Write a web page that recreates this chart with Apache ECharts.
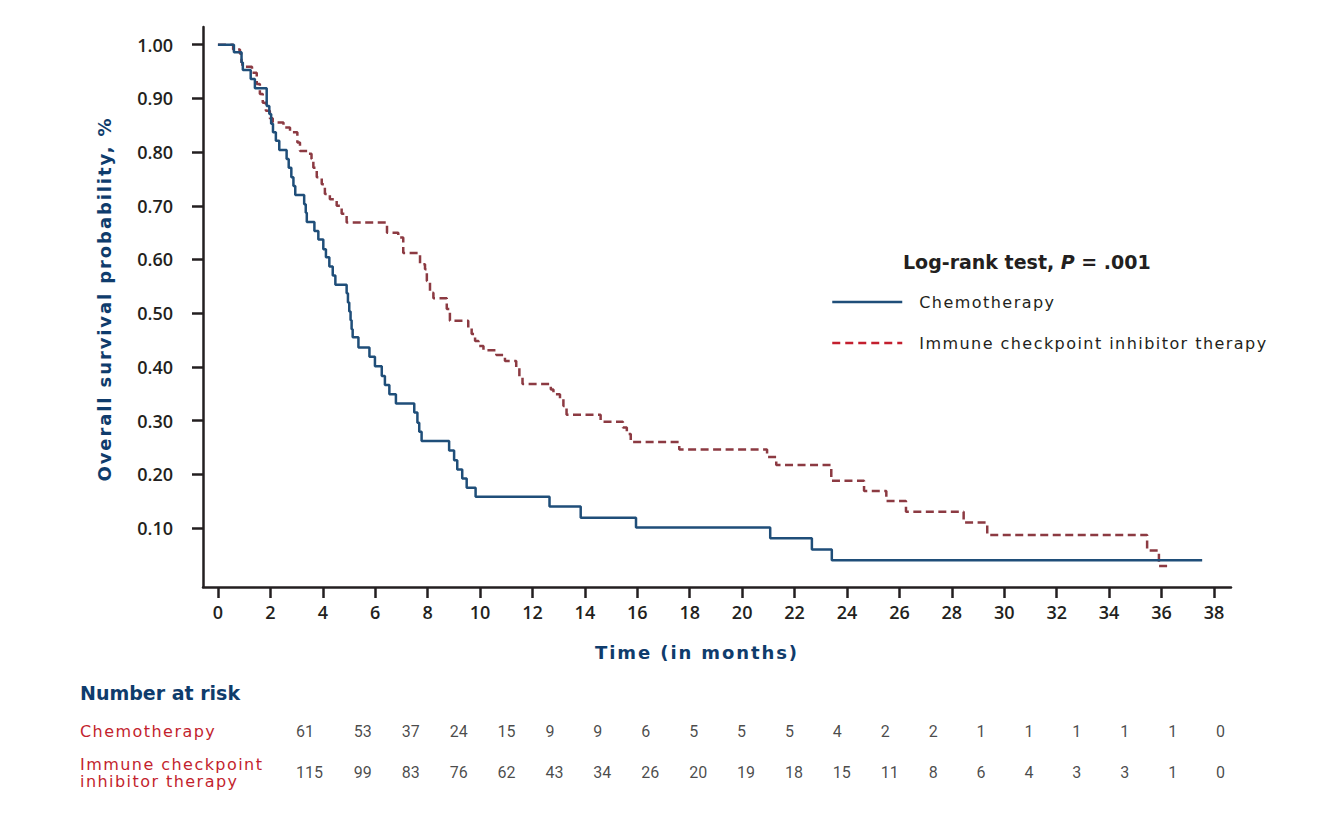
<!DOCTYPE html>
<html>
<head>
<meta charset="utf-8">
<script src="https://cdn.jsdelivr.net/npm/echarts@6/dist/echarts.min.js"></script>
<style>
  html, body { margin: 0; padding: 0; background: #fff; }
  #chart { width: 1320px; height: 822px; }
  text[style*="DejaVu"][style*="16px"] { letter-spacing: 1.45px; }
  text[style*="DejaVu"][style*="18px"] { letter-spacing: 1.9px; }
</style>
</head>
<body>
<div id="chart"></div>
<script>
// ---- data ----
const chemoTime = [0, 0.61, 0.90, 0.95, 1.25, 1.41, 1.86, 1.96, 2.03, 2.10, 2.21, 2.34, 2.62, 2.70, 2.80, 2.88, 2.95, 3.29, 3.35, 3.39, 3.68, 3.83, 4.02, 4.12, 4.25, 4.38, 4.48, 4.91, 4.96, 5.01, 5.06, 5.10, 5.14, 5.36, 5.78, 5.99, 6.25, 6.37, 6.54, 6.79, 7.49, 7.61, 7.68, 7.77, 8.82, 9.01, 9.13, 9.32, 9.49, 9.83, 12.65, 13.84, 15.95, 21.07, 22.66, 23.42, 37.55];
const chemoSurv = [1.0, 0.986, 0.967, 0.953, 0.936, 0.919, 0.886, 0.871, 0.853, 0.837, 0.821, 0.804, 0.787, 0.771, 0.753, 0.737, 0.720, 0.703, 0.687, 0.670, 0.653, 0.637, 0.619, 0.604, 0.587, 0.570, 0.553, 0.537, 0.520, 0.503, 0.487, 0.470, 0.455, 0.436, 0.419, 0.401, 0.383, 0.366, 0.349, 0.332, 0.315, 0.296, 0.279, 0.262, 0.244, 0.226, 0.209, 0.192, 0.175, 0.158, 0.140, 0.119, 0.101, 0.081, 0.060, 0.040, 0.040];

const iciTime = [0, 0.58, 0.84, 0.90, 0.93, 1.30, 1.48, 1.60, 1.71, 1.83, 1.98, 2.09, 2.50, 2.75, 3.03, 3.13, 3.45, 3.57, 3.64, 3.77, 3.96, 4.08, 4.27, 4.53, 4.72, 4.91, 6.45, 6.88, 7.07, 7.71, 7.90, 7.97, 8.09, 8.22, 8.73, 8.85, 9.55, 9.68, 9.81, 9.94, 10.13, 10.62, 10.95, 11.38, 11.50, 11.62, 12.70, 12.80, 13.05, 13.18, 13.30, 14.60, 15.45, 15.60, 15.75, 17.60, 20.95, 21.30, 23.40, 24.65, 25.50, 26.25, 28.45, 29.35, 35.45, 35.90, 36.26];
const iciSurv = [1.0, 0.991, 0.983, 0.967, 0.959, 0.948, 0.927, 0.908, 0.892, 0.877, 0.863, 0.855, 0.846, 0.837, 0.818, 0.802, 0.797, 0.787, 0.771, 0.753, 0.740, 0.722, 0.712, 0.700, 0.685, 0.669, 0.650, 0.641, 0.612, 0.591, 0.582, 0.560, 0.538, 0.528, 0.508, 0.486, 0.473, 0.461, 0.448, 0.439, 0.431, 0.422, 0.411, 0.399, 0.380, 0.368, 0.358, 0.349, 0.340, 0.327, 0.311, 0.298, 0.287, 0.275, 0.260, 0.246, 0.232, 0.217, 0.188, 0.169, 0.150, 0.130, 0.110, 0.087, 0.058, 0.029, 0.029];

const xTickValues = [0, 2, 4, 6, 8, 10, 12, 14, 16, 18, 20, 22, 24, 26, 28, 30, 32, 34, 36, 38];
const xTickLabels = ['0', '2', '4', '6', '8', '10', '12', '14', '16', '18', '20', '22', '24', '26', '28', '30', '32', '34', '36', '38'];
const yTickValues = [0.1, 0.2, 0.3, 0.4, 0.5, 0.6, 0.7, 0.8, 0.9, 1.0];
const yTickLabels = ['0.10', '0.20', '0.30', '0.40', '0.50', '0.60', '0.70', '0.80', '0.90', '1.00'];

const seriesNames = ['Chemotherapy', 'Immune checkpoint inhibitor therapy'];
const riskRowLabels = ['Chemotherapy', 'Immune checkpoint\ninhibitor therapy'];
const riskChemo = [61, 53, 37, 24, 15, 9, 9, 6, 5, 5, 5, 4, 2, 2, 1, 1, 1, 1, 1, 0];
const riskIci = [115, 99, 83, 76, 62, 43, 34, 26, 20, 19, 18, 15, 11, 8, 6, 4, 3, 3, 1, 0];

const titleText = 'Log-rank test, ';
const titleItalic = 'P';
const titleValue = ' = .001';
const riskTitle = 'Number at risk';
const xName = 'Time (in months)';
const yName = 'Overall survival probability, %';

// ---- styles ----
const NAVY = '#0f3c6c';
const BLUE = '#1f4e79';
const BROWN = '#8c3a42';
const RED = '#c31f2e';
const INK = '#231f20';

const chart = echarts.init(document.getElementById('chart'), null, { renderer: 'svg' });

function riskSeries(values, row) {
  return {
    type: 'scatter',
    xAxisIndex: 1,
    yAxisIndex: 1,
    symbolSize: 1,
    itemStyle: { color: 'rgba(0,0,0,0)' },
    silent: true,
    data: values.map((v, i) => (i === 0
      ? { value: [i, row], label: { offset: [-10, 0] } }
      : { value: [i, row] })),
    label: {
      show: true,
      position: 'inside',
      align: 'left',
      verticalAlign: 'middle',
      color: '#1a1a1a',
      fontFamily: '"Liberation Sans Narrow", Roboto, sans-serif',
      fontSize: 16,
      formatter: p => String(values[p.dataIndex])
    }
  };
}

const option = {
  animation: false,
  backgroundColor: '#fff',
  title: [
    {
      left: 903, top: 252, padding: 0,
      text: '{a|' + titleText + '}{b|' + titleItalic + '}{a|' + titleValue + '}',
      textStyle: {
        rich: {
          a: { fontFamily: 'DejaVu Sans', fontWeight: 'bold', fontSize: 19, color: INK },
          b: { fontFamily: 'DejaVu Sans', fontWeight: 'bold', fontStyle: 'italic', fontSize: 19, color: INK }
        }
      }
    },
    {
      left: 80, top: 683, padding: 0,
      text: riskTitle,
      textStyle: { fontFamily: 'DejaVu Sans', fontWeight: 'bold', fontSize: 19, color: NAVY }
    }
  ],
  legend: {
    orient: 'vertical',
    left: 831, top: 294, padding: 0,
    itemWidth: 70, itemHeight: 16, itemGap: 25,
    selectedMode: false,
    itemStyle: { opacity: 0 },
    textStyle: { fontFamily: 'DejaVu Sans', fontSize: 16, color: INK, padding: [0, 0, 0, 12] },
    data: [
      { name: seriesNames[0], itemStyle: { opacity: 0 }, lineStyle: { color: BLUE, width: 2.5, type: 'solid' } },
      { name: seriesNames[1], itemStyle: { opacity: 0 }, lineStyle: { color: RED, width: 2.5, type: [8, 5] } }
    ]
  },
  grid: [
    { left: 203, right: 89, top: 27, bottom: 235 },
    { left: 282, right: 80, top: 711, bottom: 29 }
  ],
  xAxis: [
    {
      type: 'value', gridIndex: 0, min: -0.57, max: 38.65,
      axisLine: { show: true, onZero: false, lineStyle: { color: INK, width: 2.5 } },
      axisTick: { show: true, length: 11, lineStyle: { color: INK, width: 2.5 }, customValues: xTickValues },
      axisLabel: {
        customValues: xTickValues, margin: 16,
        fontFamily: 'Open Sans', fontWeight: 600, fontSize: 18, color: INK,
        formatter: v => xTickLabels[xTickValues.indexOf(Math.round(v))]
      },
      splitLine: { show: false },
      name: xName, nameLocation: 'middle', nameGap: 56,
      nameTextStyle: { fontFamily: 'DejaVu Sans', fontWeight: 'bold', fontSize: 18, color: NAVY, padding: [0, 40, 0, 0] }
    },
    {
      type: 'category', gridIndex: 1, data: xTickLabels, show: false
    }
  ],
  yAxis: [
    {
      type: 'value', gridIndex: 0, min: -0.01, max: 1.033,
      axisLine: { show: true, onZero: false, lineStyle: { color: INK, width: 2.5 } },
      axisTick: { show: true, length: 11, lineStyle: { color: INK, width: 2.5 }, customValues: yTickValues },
      axisLabel: {
        customValues: yTickValues, margin: 30,
        fontFamily: 'Open Sans', fontWeight: 600, fontSize: 18, color: INK,
        formatter: v => yTickLabels[yTickValues.findIndex(t => Math.abs(t - v) < 1e-6)]
      },
      splitLine: { show: false },
      name: yName, nameLocation: 'middle', nameGap: 90,
      nameTextStyle: { fontFamily: 'DejaVu Sans', fontWeight: 'bold', fontSize: 18, color: NAVY, padding: [0, 0, 0, 16] }
    },
    {
      type: 'category', gridIndex: 1, data: riskRowLabels, inverse: true,
      axisLine: { show: false }, axisTick: { show: false },
      axisLabel: {
        align: 'left', margin: 202,
        fontFamily: 'DejaVu Sans', fontSize: 16, color: RED, lineHeight: 17
      }
    }
  ],
  series: [
    {
      name: seriesNames[0],
      type: 'line', step: 'end', symbol: 'none',
      xAxisIndex: 0, yAxisIndex: 0,
      lineStyle: { color: BLUE, width: 2.5 },
      itemStyle: { color: BLUE },
      data: chemoTime.map((t, i) => [t, chemoSurv[i]]),
      z: 3
    },
    {
      name: seriesNames[1],
      type: 'line', step: 'end', symbol: 'none',
      xAxisIndex: 0, yAxisIndex: 0,
      lineStyle: { color: BROWN, width: 2.5, type: [8, 4.5] },
      itemStyle: { color: BROWN },
      data: iciTime.map((t, i) => [t, iciSurv[i]]),
      z: 2
    },
    riskSeries(riskChemo, 0),
    riskSeries(riskIci, 1)
  ]
};
chart.setOption(option);
</script>
</body>
</html>
